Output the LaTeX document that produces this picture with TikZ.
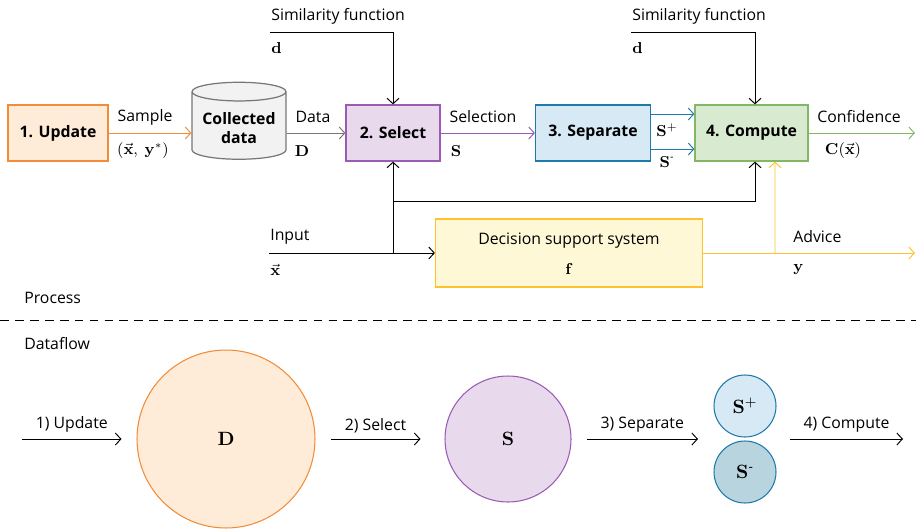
\documentclass[tikz,border=0pt]{standalone}
\usepackage{amsmath}
\usepackage[no-math]{fontspec}
\setmainfont{Open Sans}
\usepackage{xcolor}
\usetikzlibrary{arrows.meta, shapes.geometric, positioning}

\definecolor{updateLine}{HTML}{F28C38}
\definecolor{updateFill}{HTML}{FEEBD8}
\definecolor{dataLine}{HTML}{777777}
\definecolor{dataFill}{HTML}{F2F2F2}
\definecolor{selectLine}{HTML}{9B5BB5}
\definecolor{selectFill}{HTML}{E8D9EC}
\definecolor{sepLine}{HTML}{1F7AAA}
\definecolor{sepFill}{HTML}{D6E9F5}
\definecolor{negFill}{HTML}{B8D4DF}
\definecolor{computeLine}{HTML}{82B766}
\definecolor{computeFill}{HTML}{D8EAD0}
\definecolor{dssLine}{HTML}{FFC12E}
\definecolor{dssFill}{HTML}{FFF8D6}

\begin{document}
\begin{tikzpicture}[
    x=0.02cm, y=-0.02cm,
    >={Straight Barb[length=1.1mm, width=2.4mm]},
    line width=0.55pt,
    every node/.style={font=\fontsize{9}{11}\selectfont},
    % Styles for the process boxes and the data sets
    stepbox/.style={draw, line width=0.7pt, minimum height=1.12cm, font=\fontsize{9}{11}\selectfont\bfseries},
    flowdot/.style={circle, draw, line width=0.6pt, inner sep=0pt, font=\fontsize{11}{13}\selectfont},
    tag/.style={anchor=west}
]
    \useasboundingbox (0,0) rectangle (916,531);

    % 1. The process (top half)
    \node[stepbox, draw=updateLine, fill=updateFill, minimum width=2cm] (update) at (58,133) {1. Update};
    \node[cylinder, shape border rotate=90, aspect=0.22, draw=dataLine, fill=dataFill, line width=0.7pt,
          minimum width=1.88cm, minimum height=1.54cm, align=center,
          font=\fontsize{9}{11}\selectfont\bfseries] (data) at (239,128) {Collected\\data};
    \node[stepbox, draw=selectLine, fill=selectFill, minimum width=1.88cm] (select) at (393,133) {2. Select};
    \node[stepbox, draw=sepLine, fill=sepFill, minimum width=2.3cm] (separate) at (593,133) {3. Separate};
    \node[stepbox, draw=computeLine, fill=computeFill, minimum width=2.26cm] (compute) at (751.5,133) {4. Compute};
    \node[draw=dssLine, fill=dssFill, line width=0.7pt, minimum width=5.34cm, minimum height=1.36cm,
          align=center] (dss) at (569,253) {\\[-4pt]Decision support system\\[6pt] $\mathbf{f}$};

    % free ends of the connectors
    \coordinate (simA) at (270,32);
    \coordinate (simB) at (631,32);
    \coordinate (inputStart) at (269,253);
    \coordinate (split) at (393,253);
    \coordinate (loop) at (393,201);
    \coordinate (adviceSplit) at (775,253);
    \coordinate (adviceEnd) at (915,253);
    \coordinate (confEnd) at (915,133);

    % 2. Connectors of the process
    \draw[->, updateLine] (update.east) -- (update.east -| data.west);
    \draw[->, dataLine] (data.east |- select.west) -- (select.west);
    \draw[->, selectLine] (select) -- (separate);
    \draw[->, sepLine] ([yshift=0.38cm]separate.east) -- ([yshift=0.38cm]compute.west);
    \draw[->, sepLine] ([yshift=-0.32cm]separate.east) -- ([yshift=-0.32cm]compute.west);
    \draw[->, computeLine] (compute.east) -- (confEnd);
    \draw[->] (simA) -| (select.north);
    \draw[->] (simB) -| ([xshift=0.07cm]compute.north);
    \draw[->] (inputStart) -- (dss.west);
    \draw[->] (split) -- (select.south);
    \draw[->] (loop) -| ([xshift=0.07cm]compute.south);
    \draw[->, dssLine] (dss.east) -- (adviceEnd);
    \draw[->, dssLine] (adviceSplit) -- ([xshift=0.47cm]compute.south);

    % 3. Labels of the process
    \node at (145,117) {Sample};
    \node at (143,151) {$\mathbf{(}\vec{\mathbf{x}},\ \mathbf{y}^{*}\mathbf{)}$};
    \node at (313,117) {Data};
    \node at (302,151) {$\mathbf{D}$};
    \node at (483,117) {Selection};
    \node at (456,151) {$\mathbf{S}$};
    \node at (667,130) {$\mathbf{S}^{+}$};
    \node at (667,162) {$\mathbf{S}^{\text{-}}$};
    \node at (859,117) {Confidence};
    \node at (843,151) {$\mathbf{C}(\vec{\mathbf{x}})$};
    \node[tag] at (265,16) {Similarity function};
    \node[tag] at (265,48) {$\mathbf{d}$};
    \node[tag] at (626,16) {Similarity function};
    \node[tag] at (626,48) {$\mathbf{d}$};
    \node[tag] at (264,237) {Input};
    \node[tag] at (264,270) {$\vec{\mathbf{x}}$};
    \node[tag] at (787,237) {Advice};
    \node[tag] at (787,270) {$\mathbf{y}$};

    % 4. Process / Dataflow split
    \node[tag] at (18,298) {Process};
    \draw[dash pattern=on 5pt off 3.5pt] (0,320) -- (916,320);
    \node[tag] at (18,344) {Dataflow};

    % 5. The data sets (bottom half)
    \node[flowdot, draw=updateLine, fill=updateFill, minimum size=3.56cm] (setD) at (226,439) {$\mathbf{D}$};
    \node[flowdot, draw=selectLine, fill=selectFill, minimum size=2.52cm] (setS) at (508,439) {$\mathbf{S}$};
    \node[flowdot, draw=sepLine, fill=sepFill, minimum size=1.24cm] (setPos) at (745,406) {$\mathbf{S}^{+}$};
    \node[flowdot, draw=sepLine, fill=negFill, minimum size=1.24cm] (setNeg) at (745,472) {$\mathbf{S}^{\text{-}}$};

    \coordinate (flowStart) at (22,439);
    \coordinate (gap) at (745,439);
    \coordinate (flowEnd) at (903,439);

    \draw[->] (flowStart) -- node[above] {1) Update} ([xshift=-0.3cm]setD.west);
    \draw[->] ([xshift=0.3cm]setD.east) -- node[above] {2) Select} ([xshift=-0.48cm]setS.west);
    \draw[->] ([xshift=0.3cm]setS.east) -- node[above] {3) Separate} ([xshift=-0.94cm]gap);
    \draw[->] ([xshift=0.9cm]gap) -- node[above] {4) Compute} (flowEnd);

\end{tikzpicture}
\end{document}
